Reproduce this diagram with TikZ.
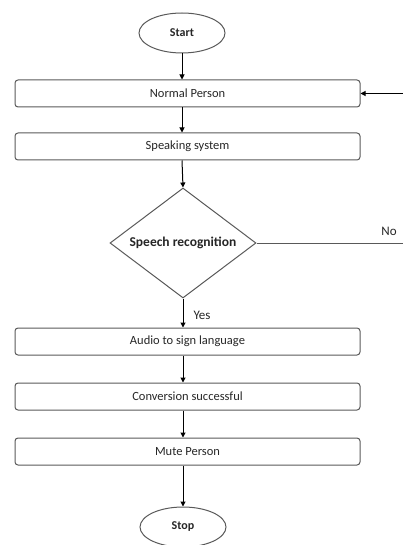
\documentclass[tikz,border=0pt]{standalone}
\usepackage{fontspec}
\setmainfont{Carlito}
\usepackage{tikz}
\usetikzlibrary{
    arrows.meta,
    shapes.geometric
}

\begin{document}
\begin{tikzpicture}[
        x=1pt,
        y=-1pt,
        >={Triangle[length=5pt,width=5pt]},
        line width=1pt,
        every node/.style={
            draw=black!65,
            text=black!85,
            font=\fontsize{12.5}{14}\selectfont
        },
        terminal/.style={
            ellipse,
            minimum width=86pt,
            minimum height=40pt,
            inner sep=0pt,
            font=\fontsize{12}{14}\selectfont\bfseries
        },
        process/.style={
            rectangle,
            rounded corners=3pt,
            minimum width=345pt,
            minimum height=27pt,
            inner sep=0pt
        },
        decision/.style={
            diamond,
            shape aspect=1.33,
            minimum width=146pt,
            minimum height=110pt,
            inner sep=0pt,
            font=\fontsize{13.5}{15}\selectfont\bfseries
        },
        tag/.style={
            draw=none,
            font=\fontsize{13}{15}\selectfont
        }
    ]

    \useasboundingbox (0,0) rectangle (403,545);

    \node[terminal] (Start) at (182,33) {Start};
    \node[process] (Normal) at (187.5,93.5) {Normal Person};
    \node[process] (Speak) at (187.5,146.5) {Speaking system};
    \node[decision] (Recog) at (183,243) {Speech recognition};
    \node[process] (Audio) at (187.5,341.5) {Audio to sign language};
    \node[process] (Conv) at (187.5,396.5) {Conversion successful};
    \node[process] (Mute) at (187.5,451.5) {Mute Person};
    \node[terminal] (Stop) at (183,527) {Stop};

    \node[tag] (No) at (389,231) {No};
    \node[tag] (Yes) at (202,315) {Yes};

    \coordinate (NoEnd) at (403,243);
    \coordinate (BackIn) at (403,93.5);

    \draw[->] (Start) -- (Start |- Normal.north);
    \draw[->] (Start |- Normal.south) -- (Start |- Speak.north);
    \draw[->] (Start |- Speak.south) -- (Recog.north);
    \draw[->] (Recog.south) -- (Recog |- Audio.north);
    \draw[->] (Recog |- Audio.south) -- (Recog |- Conv.north);
    \draw[->] (Recog |- Conv.south) -- (Recog |- Mute.north);
    \draw[->] (Recog |- Mute.south) -- (Stop);

    \draw[draw=black!65] (Recog.east) -- (NoEnd);
    \draw[->] (BackIn) -- (Normal.east);

\end{tikzpicture}
\end{document}
